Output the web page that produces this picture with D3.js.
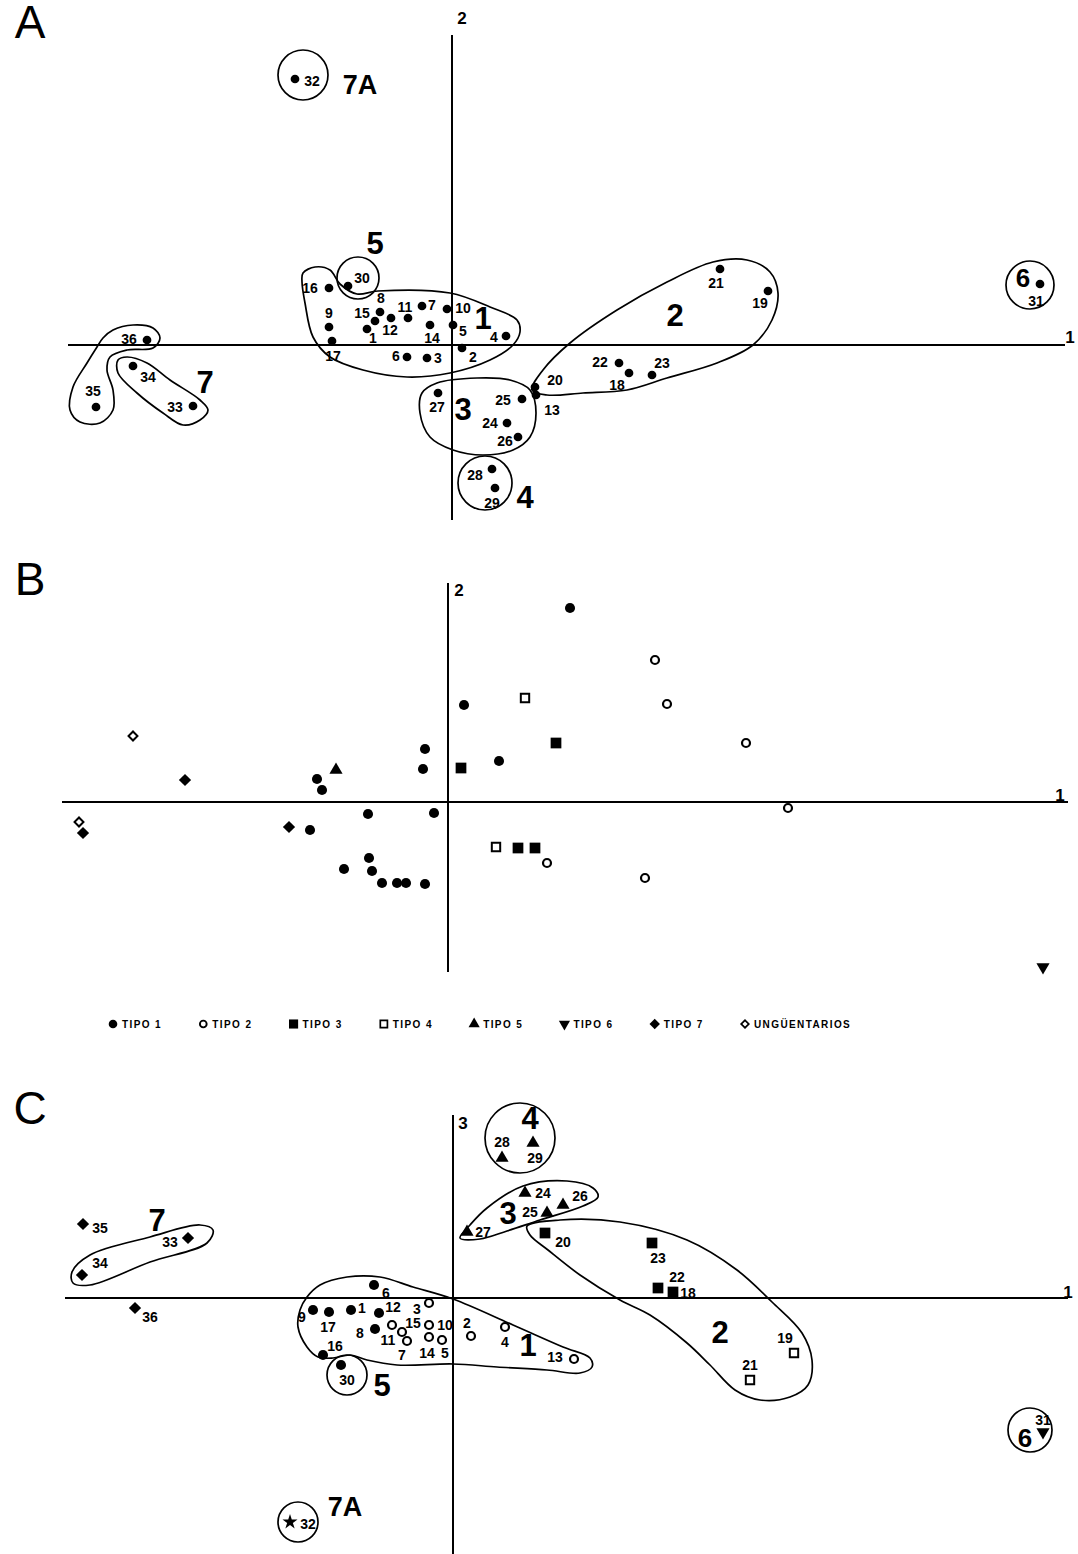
<!DOCTYPE html>
<html>
<head>
<meta charset="utf-8">
<script src="https://cdn.jsdelivr.net/npm/d3@7"></script>
<style>
  body { margin: 0; background: #fff; }
  svg { display: block; }
</style>
</head>
<body>
<div id="chart"></div>
<script>
// ---------- data (factor scores, axis units) ----------
// panel A : axes 1 x 2, every object a small dot
const pointsA = [
  ["30",-1.04,0.59],["16",-1.23,0.57],["8",-0.72,0.33],["9",-1.23,0.18],["15",-0.77,0.24],
  ["1",-0.85,0.16],["12",-0.61,0.27],["11",-0.44,0.27],["7",-0.30,0.39],["14",-0.22,0.20],
  ["10",-0.05,0.36],["5",0.01,0.20],["4",0.54,0.09],["2",0.10,-0.03],["3",-0.25,-0.13],
  ["6",-0.45,-0.12],["17",-1.20,0.04],["36",-3.05,0.05],["34",-3.19,-0.21],["33",-2.59,-0.61],
  ["35",-3.56,-0.62],["21",2.68,0.76],["19",3.16,0.54],["22",1.67,-0.18],["18",1.77,-0.28],
  ["23",2.00,-0.30],["20",0.83,-0.42],["13",0.84,-0.50],["25",0.70,-0.54],["27",-0.14,-0.48],
  ["24",0.55,-0.78],["26",0.66,-0.92],["28",0.40,-1.24],["29",0.43,-1.43],["32",-1.57,2.66],
  ["31",5.88,0.61]
]
const labelsA = [
  ["30",-0.90,0.67],["16",-1.42,0.57],["8",-0.71,0.47],["9",-1.23,0.32],["15",-0.90,0.32],
  ["1",-0.79,0.07],["12",-0.62,0.15],["11",-0.47,0.38],["7",-0.20,0.40],["14",-0.20,0.07],
  ["10",0.11,0.37],["5",0.11,0.14],["4",0.42,0.08],["2",0.21,-0.12],["3",-0.14,-0.13],
  ["6",-0.56,-0.11],["17",-1.19,-0.11],["36",-3.23,0.06],["34",-3.04,-0.32],["33",-2.77,-0.62],
  ["35",-3.59,-0.46],["21",2.64,0.62],["19",3.08,0.42],["22",1.48,-0.17],["18",1.65,-0.40],
  ["23",2.10,-0.18],["20",1.03,-0.35],["13",1.00,-0.65],["25",0.51,-0.55],["27",-0.15,-0.62],
  ["24",0.38,-0.78],["26",0.53,-0.96],["28",0.23,-1.30],["29",0.40,-1.58],["32",-1.40,2.64],
  ["31",5.84,0.44]
]
const groupsA = [
  ["1",0.31,0.27],["2",2.23,0.30],["3",0.11,-0.64],["4",0.73,-1.52],["5",-0.77,1.02],
  ["6",5.71,0.67],["7",-2.47,-0.37],["7A",-0.92,2.60]
]
const circlesA = [[-0.94,0.67,0.21],[0.33,-1.38,0.27],[-1.49,2.70,0.25],[5.78,0.60,0.24]]
const hullsA = [
  [[-1.49,0.72],[-1.37,0.78],[-1.22,0.75],[-1.12,0.61],[-0.95,0.51],[-0.74,0.54],[-0.02,0.52],
   [0.38,0.38],[0.65,0.25],[0.68,0.13],[0.61,0.00],[0.38,-0.15],[-0.02,-0.28],[-0.45,-0.32],
   [-0.89,-0.25],[-1.22,-0.12],[-1.39,0.08],[-1.47,0.42],[-1.50,0.63]],
  [[0.80,-0.45],[0.91,-0.25],[1.18,0.02],[1.65,0.35],[2.15,0.63],[2.61,0.83],[2.95,0.85],
   [3.18,0.73],[3.26,0.52],[3.20,0.25],[3.01,0.00],[2.65,-0.18],[2.15,-0.33],[1.75,-0.45],
   [1.31,-0.48],[0.95,-0.50]],
  [[-0.30,-0.48],[-0.15,-0.38],[0.25,-0.33],[0.58,-0.35],[0.78,-0.45],[0.84,-0.68],[0.78,-0.92],
   [0.61,-1.05],[0.31,-1.10],[0.01,-1.05],[-0.22,-0.92],[-0.32,-0.68]],
  [[-3.34,-0.15],[-3.25,-0.12],[-3.05,-0.18],[-2.82,-0.35],[-2.52,-0.55],[-2.44,-0.65],
   [-2.52,-0.75],[-2.69,-0.80],[-2.89,-0.68],[-3.15,-0.48],[-3.34,-0.28]],
  [[-3.49,0.07],[-3.39,0.15],[-3.19,0.20],[-2.99,0.17],[-2.92,0.07],[-2.99,-0.03],[-3.25,-0.05],
   [-3.42,-0.12],[-3.45,-0.25],[-3.39,-0.45],[-3.39,-0.65],[-3.52,-0.78],[-3.72,-0.77],
   [-3.82,-0.65],[-3.79,-0.42],[-3.65,-0.18],[-3.55,-0.02]]
]

// panel B : variables / types, axes 1 x 2
const tipoNames = ["TIPO 1","TIPO 2","TIPO 3","TIPO 4","TIPO 5","TIPO 6","TIPO 7","UNGÜENTARIOS"]
const tipoKeys = ["t1","t2","t3","t4","t5","t6","t7","u"]
const pointsB = [
  ["t1",1.22,1.94],["t1",0.16,0.97],["t1",0.51,0.41],["t1",-1.31,0.23],["t1",-1.26,0.12],
  ["t1",-0.23,0.53],["t1",-0.25,0.33],["t1",-1.38,-0.28],["t1",-0.80,-0.12],["t1",-0.14,-0.11],
  ["t1",-0.79,-0.56],["t1",-1.04,-0.67],["t1",-0.76,-0.69],["t1",-0.66,-0.81],["t1",-0.51,-0.81],
  ["t1",-0.42,-0.81],["t1",-0.23,-0.82],
  ["t2",2.07,1.42],["t2",2.19,0.98],["t2",2.98,0.59],["t2",3.40,-0.06],["t2",0.99,-0.61],["t2",1.97,-0.76],
  ["t3",1.08,0.59],["t3",0.13,0.34],["t3",0.70,-0.46],["t3",0.87,-0.46],
  ["t4",0.77,1.04],["t4",0.48,-0.45],
  ["t5",-1.12,0.32],
  ["t6",5.95,-1.65],
  ["t7",-2.63,0.22],["t7",-3.65,-0.31],["t7",-1.59,-0.25],
  ["u",-3.15,0.66],["u",-3.69,-0.20]
]

// panel C : axes 1 x 3
const pointsC = [
  ["28",0.49,1.40,"t5"],["29",0.80,1.55,"t5"],["24",0.72,1.05,"t5"],["26",1.10,0.93,"t5"],
  ["25",0.94,0.85,"t5"],["27",0.14,0.66,"t5"],["20",0.92,0.65,"t3"],["23",1.99,0.55,"t3"],
  ["22",2.05,0.10,"t3"],["18",2.20,0.06,"t3"],["19",3.41,-0.55,"t4"],["21",2.97,-0.82,"t4"],
  ["35",-3.70,0.74,"t7"],["33",-2.65,0.60,"t7"],["34",-3.71,0.23,"t7"],["36",-3.18,-0.10,"t7"],
  ["6",-0.79,0.13,"t1"],["9",-1.40,-0.12,"t1"],["17",-1.24,-0.14,"t1"],["1",-1.02,-0.12,"t1"],
  ["12",-0.74,-0.15,"t1"],["8",-0.78,-0.31,"t1"],["16",-1.30,-0.57,"t1"],["30",-1.12,-0.67,"t1"],
  ["3",-0.24,-0.05,"t2"],["11",-0.61,-0.27,"t2"],["15",-0.51,-0.34,"t2"],["7",-0.46,-0.43,"t2"],
  ["10",-0.24,-0.27,"t2"],["14",-0.24,-0.39,"t2"],["5",-0.11,-0.42,"t2"],["2",0.18,-0.38,"t2"],
  ["4",0.52,-0.29,"t2"],["13",1.21,-0.61,"t2"],["31",5.90,-1.34,"t6"],["32",-1.63,-2.24,"star"]
]
const labelsC = [
  ["28",0.49,1.56],["29",0.82,1.40],["24",0.90,1.05],["26",1.27,1.02],["25",0.77,0.86],
  ["27",0.30,0.66],["20",1.10,0.56],["23",2.05,0.40],["22",2.24,0.21],["18",2.35,0.05],
  ["19",3.32,-0.40],["21",2.97,-0.67],["35",-3.53,0.70],["33",-2.83,0.56],["34",-3.53,0.35],
  ["36",-3.03,-0.19],["6",-0.67,0.05],["9",-1.51,-0.19],["17",-1.25,-0.29],["1",-0.91,-0.10],
  ["12",-0.60,-0.09],["8",-0.93,-0.35],["16",-1.18,-0.48],["30",-1.06,-0.82],["3",-0.36,-0.11],
  ["11",-0.65,-0.42],["15",-0.40,-0.25],["7",-0.51,-0.57],["10",-0.08,-0.27],["14",-0.26,-0.55],
  ["5",-0.08,-0.55],["2",0.14,-0.25],["4",0.52,-0.44],["13",1.02,-0.59],["31",5.90,-1.22],
  ["32",-1.45,-2.26]
]
const groupsC = [
  ["1",0.75,-0.47],["2",2.67,-0.34],["3",0.55,0.85],["4",0.77,1.80],["5",-0.71,-0.87],
  ["6",5.72,-1.40],["7",-2.96,0.78],["7A",-1.08,-2.09]
]
const circlesC = [[0.67,1.60,0.35],[-1.06,-0.77,0.20],[5.77,-1.32,0.22],[-1.55,-2.24,0.20]]
const hullsC = [
  [[-1.55,-0.29],[-1.53,-0.12],[-1.46,0.01],[-1.33,0.13],[-1.06,0.21],[-0.73,0.21],[-0.40,0.11],
   [0.00,-0.01],[0.60,-0.27],[1.10,-0.49],[1.37,-0.60],[1.39,-0.69],[1.27,-0.75],[0.94,-0.72],
   [0.44,-0.69],[0.00,-0.66],[-0.56,-0.67],[-0.86,-0.62],[-1.03,-0.57],[-1.20,-0.60],
   [-1.35,-0.59],[-1.46,-0.49]],
  [[0.74,0.72],[1.07,0.78],[1.67,0.76],[2.34,0.58],[2.84,0.28],[3.19,-0.04],[3.49,-0.35],
   [3.59,-0.62],[3.55,-0.87],[3.37,-0.99],[3.07,-1.02],[2.82,-0.92],[2.57,-0.67],[2.34,-0.45],
   [1.97,-0.17],[1.67,-0.02],[1.27,0.23],[0.95,0.48],[0.77,0.63]],
  [[0.07,0.60],[0.17,0.73],[0.34,0.90],[0.70,1.12],[1.14,1.17],[1.40,1.10],[1.45,1.01],
   [1.30,0.92],[0.87,0.78],[0.54,0.67],[0.27,0.59]],
  [[-3.81,0.26],[-3.63,0.43],[-3.03,0.61],[-2.53,0.73],[-2.40,0.68],[-2.46,0.55],[-3.03,0.36],
   [-3.63,0.13],[-3.80,0.15]]
]

// ---------- drawing ----------
const width = 1078, height = 1554
const font = "'Liberation Sans', Arial, sans-serif"

const svg = d3.select("#chart").append("svg")
  .attr("width", width).attr("height", height)

const hullLine = d3.line().curve(d3.curveCatmullRomClosed.alpha(0.5))

function marker(g, type, cx, cy, big) {
  const k = big ? 1 : 0.75
  let shape = d3.symbolCircle, size = 80 * k, fill = "#000", stroke = "none", rot = 0, sw = 0
  if (type === "t2") { size = 50 * k; fill = "#fff"; stroke = "#000"; sw = 2.2 }
  if (type === "t3") { shape = d3.symbolSquare; size = 115 * k }
  if (type === "t4") { shape = d3.symbolSquare; size = 70 * k; fill = "#fff"; stroke = "#000"; sw = 2 }
  if (type === "t5") { shape = d3.symbolTriangle; size = 75 * k }
  if (type === "t6") { shape = d3.symbolTriangle; size = 75 * k; rot = 180 }
  if (type === "t7") { shape = d3.symbolSquare; size = 75 * k; rot = 45 }
  if (type === "u") { shape = d3.symbolSquare; size = 40 * k; rot = 45; fill = "#fff"; stroke = "#000"; sw = 2 }
  if (type === "star") { shape = d3.symbolStar; size = 70 * k }
  g.append("path")
    .attr("d", d3.symbol().type(shape).size(size)())
    .attr("transform", `translate(${cx},${cy}) rotate(${rot})`)
    .attr("fill", fill).attr("stroke", stroke).attr("stroke-width", sw)
}

function panel(cfg) {
  const x = d3.scaleLinear().domain([0, 1]).range([cfg.ox, cfg.ox + 100])
  const y = d3.scaleLinear().domain([0, 1]).range([cfg.oy, cfg.oy - 100])
  const g = svg.append("g")

  // axes
  g.append("line").attr("x1", x(cfg.xExt[0])).attr("x2", x(cfg.xExt[1]))
    .attr("y1", y(0)).attr("y2", y(0)).attr("stroke", "#000").attr("stroke-width", 2)
  g.append("line").attr("x1", x(0)).attr("x2", x(0))
    .attr("y1", y(cfg.yExt[0])).attr("y2", y(cfg.yExt[1])).attr("stroke", "#000").attr("stroke-width", 2)
  cfg.axisLabels.forEach(d => {
    g.append("text").attr("x", x(d[1])).attr("y", y(d[2]))
      .attr("text-anchor", "middle").attr("dominant-baseline", "central")
      .style("font", `bold 17px ${font}`).text(d[0])
  })

  // panel letter
  g.append("text").attr("x", cfg.letter[1]).attr("y", cfg.letter[2])
    .attr("text-anchor", "middle")
    .style("font", `46px ${font}`).text(cfg.letter[0])

  // group outlines and circles
  ;(cfg.hulls || []).forEach(h => {
    g.append("path").attr("d", hullLine(h.map(p => [x(p[0]), y(p[1])])))
      .attr("fill", "none").attr("stroke", "#000").attr("stroke-width", 1.7)
  })
  ;(cfg.circles || []).forEach(c => {
    g.append("circle").attr("cx", x(c[0])).attr("cy", y(c[1])).attr("r", x(c[2]) - x(0))
      .attr("fill", "none").attr("stroke", "#000").attr("stroke-width", 1.7)
  })

  // points
  cfg.points.forEach(p => marker(g, p.type, x(p.x), y(p.y), cfg.big))

  // labels
  ;(cfg.labels || []).forEach(l => {
    g.append("text").attr("x", x(l[1])).attr("y", y(l[2]))
      .attr("text-anchor", "middle").attr("dominant-baseline", "central")
      .style("font", `bold 14px ${font}`).text(l[0])
  })
  ;(cfg.groups || []).forEach(l => {
    const fs = l[0] === "7A" ? 27 : (l[0] === "6" ? 26 : 31)
    g.append("text").attr("x", x(l[1])).attr("y", y(l[2]))
      .attr("text-anchor", "middle").attr("dominant-baseline", "central")
      .style("font", `bold ${fs}px ${font}`).text(l[0])
  })
  return { x, y, g }
}

panel({
  ox: 452, oy: 345, xExt: [-3.84, 6.13], yExt: [-1.75, 3.10],
  axisLabels: [["1", 6.18, 0.08], ["2", 0.10, 3.27]],
  letter: ["A", 30, 38],
  points: pointsA.map(d => ({ x: d[1], y: d[2], type: "t1" })),
  big: false, labels: labelsA, groups: groupsA, circles: circlesA, hulls: hullsA
})

panel({
  ox: 448, oy: 802, xExt: [-3.86, 6.20], yExt: [-1.70, 2.19],
  axisLabels: [["1", 6.12, 0.07], ["2", 0.11, 2.12]],
  letter: ["B", 30, 595],
  points: pointsB.map(d => ({ x: d[1], y: d[2], type: d[0] })),
  big: true
})

panel({
  ox: 453, oy: 1298, xExt: [-3.88, 6.15], yExt: [-2.56, 1.83],
  axisLabels: [["1", 6.15, 0.06], ["3", 0.10, 1.75]],
  letter: ["C", 30, 1124],
  points: pointsC.map(d => ({ x: d[1], y: d[2], type: d[3] })),
  big: true, labels: labelsC, groups: groupsC, circles: circlesC, hulls: hullsC
})

// legend for panel B
const legendX = d3.scalePoint().domain(tipoKeys).range([113, 745])
const legend = svg.append("g").attr("transform", "translate(0,1024)")
tipoKeys.forEach((k, i) => {
  const gx = legendX(k)
  const lg = legend.append("g")
  const s = lg.append("g").attr("transform", "scale(0.85)")
  marker(s, k, gx / 0.85, 0, true)
  lg.append("text").attr("x", gx + 9).attr("y", 0.5)
    .attr("dominant-baseline", "central")
    .style("font", `bold 10px ${font}`).style("letter-spacing", "1.4px")
    .text(tipoNames[i])
})
</script>
</body>
</html>
